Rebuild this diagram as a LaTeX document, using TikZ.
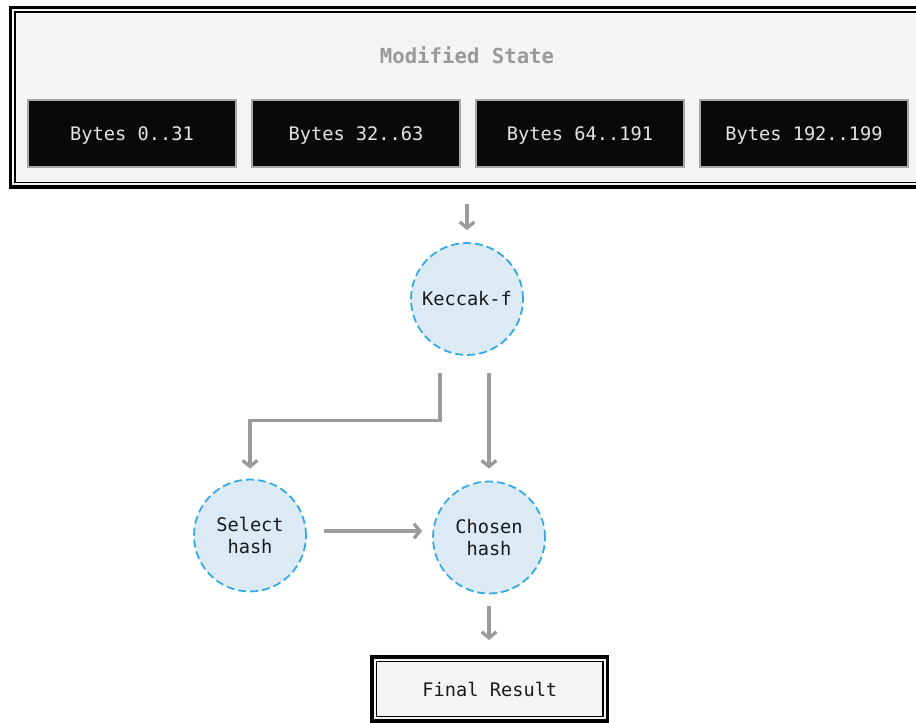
\documentclass[tikz,border=0pt]{standalone}
\usepackage{fontspec}
\setmonofont{DejaVu Sans Mono}
\usetikzlibrary{arrows.meta,calc}

\definecolor{panel}{HTML}{F3F4F6}
\definecolor{chip}{HTML}{08090B}
\definecolor{chipline}{HTML}{A8A8A8}
\definecolor{chiptext}{HTML}{E4E4E4}
\definecolor{titlegray}{HTML}{9A9A9A}
\definecolor{wire}{HTML}{9B9B9B}
\definecolor{bubble}{HTML}{DCEAF6}
\definecolor{bubbleline}{HTML}{2EA9E2}
\definecolor{ink}{HTML}{1A1A1A}

\tikzset{
  framebox/.style={draw=black, line width=2.4pt, fill=panel, outer sep=0pt},
  innerframe/.style={draw=black, line width=1.1pt},
  bytebox/.style={draw=chipline, line width=0.8pt, fill=chip, text=chiptext, text depth=0pt,
    minimum width=156pt, minimum height=50.25pt, font=\ttfamily\fontsize{14}{17}\selectfont},
  proc/.style={circle, draw=bubbleline, dash pattern=on 6pt off 3pt, line width=1.3pt,
    fill=bubble, text=ink, minimum size=84pt, align=center, inner sep=0pt,
    font=\ttfamily\fontsize{14}{17}\selectfont},
  arr/.style={draw=wire, line width=2.5pt, -{Straight Barb[length=4.5pt,width=11pt]}},
}

\begin{document}
\begin{tikzpicture}[x=0.75pt,y=-0.75pt]
\useasboundingbox (0,0) rectangle (916,722);

% state panel with its four byte ranges
\node[framebox, minimum width=684.5pt, minimum height=134.6pt] (state) at (467,97.3) {};
\draw[innerframe] ($(state.north west)+(4.2,4.2)$) rectangle ($(state.south east)+(-4.2,-4.6)$);
\node[text=titlegray, font=\ttfamily\bfseries\fontsize{15.5}{18}\selectfont] (title) at (467,55) {Modified State};
\node[bytebox] (b1) at (132,133.5) {Bytes 0..31};
\node[bytebox] (b2) at (356,133.5) {Bytes 32..63};
\node[bytebox] (b3) at (580,133.5) {Bytes 64..191};
\node[bytebox] (b4) at (804,133.5) {Bytes 192..199};

% processing steps
\node[proc] (kec) at (467,299) {Keccak-f};
\node[proc] (sel) at (250,535.5) {Select\\hash};
\node[proc] (cho) at (489,537.5) {Chosen\\hash};

% result box
\node[framebox, minimum width=176.6pt, minimum height=48pt, text=ink,
      font=\ttfamily\fontsize{14}{17}\selectfont] (fin) at (489.8,689) {Final Result};
\draw[innerframe] ($(fin.north west)+(4.5,4.5)$) rectangle ($(fin.south east)+(-4.5,-4.5)$);

% connectors
\draw[arr] ($(state.south)+(0,17)$) -- ($(kec.north)+(0,-12)$);
\draw[arr] ($(kec.south)+(22,17)$) -- ($(cho.north)+(0,-12)$);
\draw[arr] ($(kec.south)+(-27,17)$) |- ($(sel.north)+(0,-58)$) -- ($(sel.north)+(0,-10)$);
\coordinate (s1) at ($(sel.east)+(17,-4.5)$);
\draw[arr, shorten >=7.5pt] (s1) -- (s1 -| cho.west);
\draw[arr] ($(cho.south)+(0,12)$) -- ($(cho.south |- fin.north)+(0,-17)$);
\end{tikzpicture}
\end{document}
